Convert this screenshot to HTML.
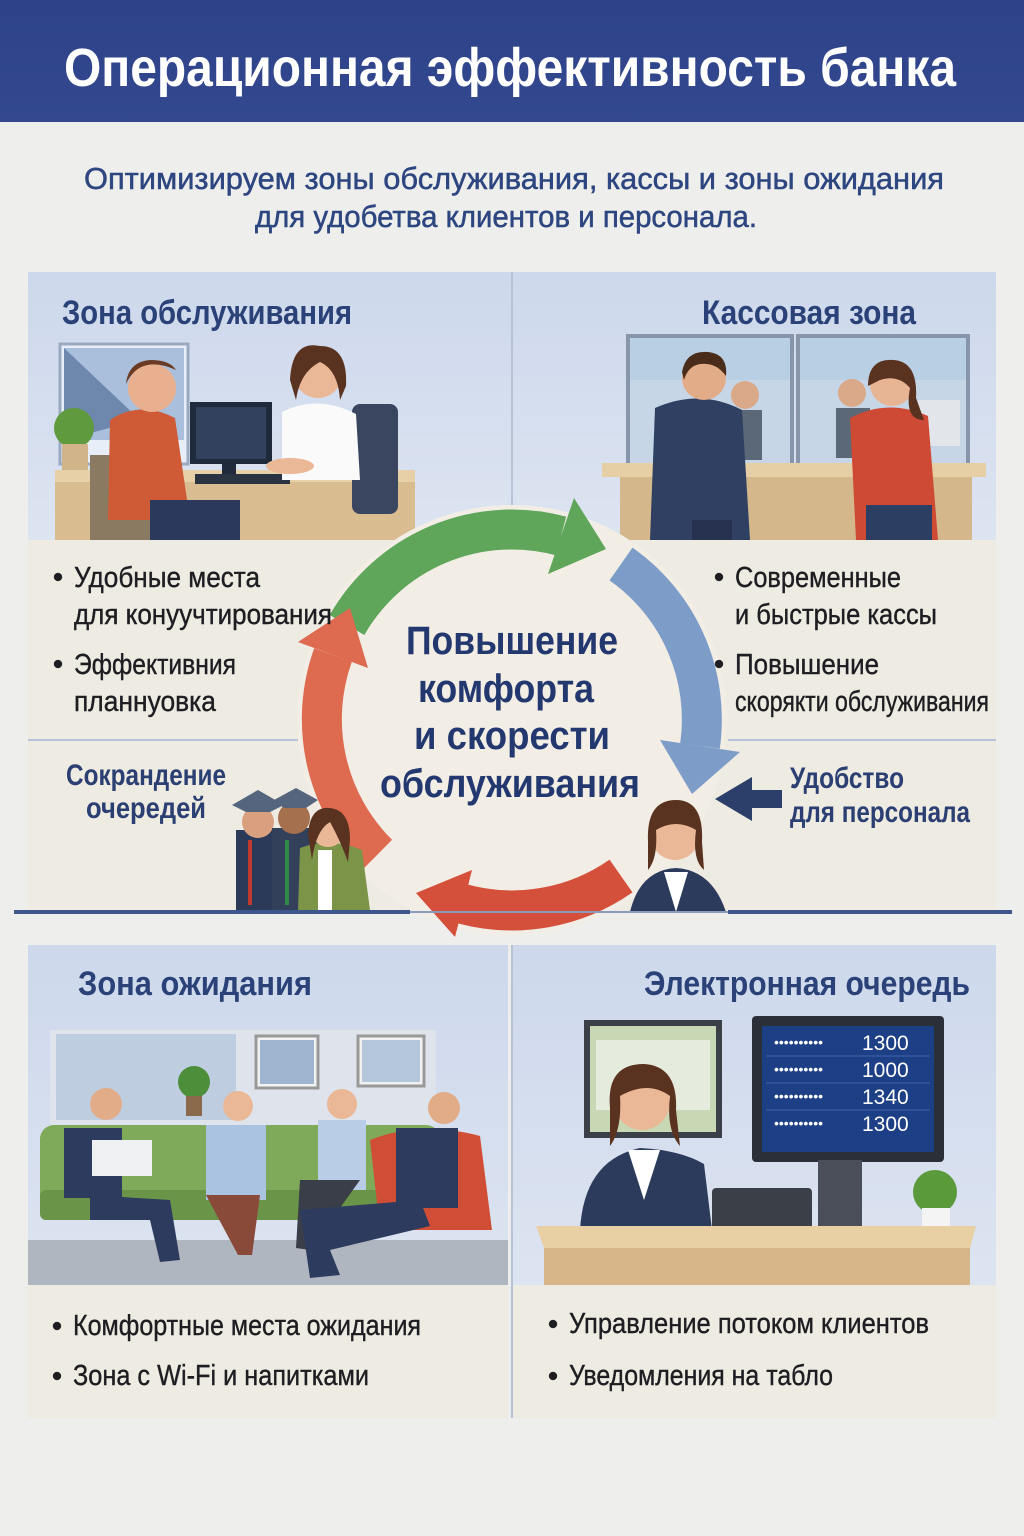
<!DOCTYPE html>
<html><head><meta charset="utf-8"><style>
html,body{margin:0;padding:0;background:#eeeeec}
svg{display:block}
text{font-family:"Liberation Sans Narrow","Liberation Sans","DejaVu Sans Condensed",sans-serif}
</style></head><body>
<svg width="1024" height="1536" viewBox="0 0 1024 1536" xmlns="http://www.w3.org/2000/svg">
<defs>
<linearGradient id="hdr" x1="0" y1="0" x2="0" y2="1"><stop offset="0" stop-color="#2d4289"/><stop offset="1" stop-color="#33488f"/></linearGradient>
<linearGradient id="sky" x1="0" y1="0" x2="0" y2="1"><stop offset="0" stop-color="#cdd8ec"/><stop offset="1" stop-color="#dde4f1"/></linearGradient>
</defs>
<rect width="1024" height="1536" fill="#eeeeec"/>
<rect width="1024" height="122" fill="url(#hdr)"/>
<text x="510" y="86" text-anchor="middle" font-size="54" font-weight="bold" fill="#fff" textLength="892" lengthAdjust="spacingAndGlyphs">Операционная эффективность банка</text>
<text x="514" y="189" text-anchor="middle" font-size="31" fill="#2d4680" stroke="#2d4680" stroke-width="0.5" textLength="860" lengthAdjust="spacingAndGlyphs">Оптимизируем зоны обслуживания, кассы и зоны ожидания</text>
<text x="506" y="227" text-anchor="middle" font-size="31" fill="#2d4680" stroke="#2d4680" stroke-width="0.5" textLength="502" lengthAdjust="spacingAndGlyphs">для удобетва клиентов и персонала.</text>

<!-- top panel -->
<rect x="28" y="272" width="968" height="268" fill="url(#sky)"/>
<rect x="28" y="540" width="968" height="372" fill="#eeebe3"/>
<line x1="512" y1="272" x2="512" y2="540" stroke="#b8c2d6" stroke-width="2"/>
<line x1="28" y1="740" x2="300" y2="740" stroke="#b5c3da" stroke-width="2"/>
<line x1="728" y1="740" x2="996" y2="740" stroke="#b5c3da" stroke-width="2"/>

<text x="62" y="324" font-size="34" font-weight="bold" fill="#2b4278" textLength="290" lengthAdjust="spacingAndGlyphs">Зона обслуживания</text>
<text x="702" y="324" font-size="34" font-weight="bold" fill="#2b4278" textLength="214" lengthAdjust="spacingAndGlyphs">Кассовая зона</text>

<!-- service zone illustration -->
<rect x="60" y="344" width="128" height="120" fill="#e8eef7" stroke="#9aa8c0" stroke-width="3"/>
<polygon points="64,348 184,348 184,440 64,440" fill="#a9bfdc"/>
<polygon points="64,348 140,420 64,440" fill="#6e87ad"/>
<circle cx="74" cy="428" r="20" fill="#5f9a3e"/><rect x="62" y="444" width="26" height="26" fill="#d2b48a"/>
<rect x="55" y="470" width="360" height="70" fill="#d9bd91"/>
<rect x="55" y="470" width="360" height="12" fill="#e7d0a8"/>
<rect x="190" y="402" width="82" height="62" fill="#1f2a3c"/><rect x="196" y="407" width="70" height="52" fill="#32425e"/>
<rect x="222" y="464" width="14" height="14" fill="#1f2a3c"/><rect x="195" y="474" width="95" height="10" fill="#2a3342"/>
<rect x="90" y="455" width="60" height="85" fill="#8a7a62"/>
<path d="M110 420 Q140 400 175 418 L190 520 L108 520 Z" fill="#cf5a36"/>
<circle cx="152" cy="388" r="24" fill="#e8b08e"/>
<path d="M126 384 Q140 354 176 370 Q170 360 150 360 Q128 362 126 384Z" fill="#6a3b22"/>
<rect x="150" y="500" width="90" height="40" fill="#2b3a5c"/>
<rect x="352" y="404" width="46" height="110" rx="8" fill="#3a4660"/>
<path d="M282 412 Q318 394 356 414 L360 480 L282 480 Z" fill="#fafafa"/>
<circle cx="318" cy="374" r="24" fill="#eab896"/><path d="M290 380 Q292 340 320 346 Q348 346 346 386 L340 400 Q338 370 320 362 Q300 372 296 400Z" fill="#5a3320"/>
<ellipse cx="290" cy="466" rx="24" ry="8" fill="#eab896"/>

<!-- cash zone illustration -->
<rect x="628" y="336" width="164" height="128" fill="#b8cfe4" stroke="#8796ab" stroke-width="4"/>
<rect x="798" y="336" width="170" height="128" fill="#b8cfe4" stroke="#8796ab" stroke-width="4"/>
<rect x="630" y="380" width="160" height="84" fill="#c6d6e6"/>
<rect x="800" y="380" width="166" height="84" fill="#c6d6e6"/>
<rect x="918" y="400" width="42" height="46" fill="#e2e6ea"/>
<circle cx="745" cy="395" r="14" fill="#d9a98a"/><rect x="728" y="410" width="34" height="50" fill="#5b6878"/>
<circle cx="852" cy="393" r="14" fill="#d9a98a"/><rect x="836" y="408" width="34" height="50" fill="#5b6878"/>
<rect x="602" y="463" width="384" height="14" fill="#e6cfa5"/>
<rect x="620" y="477" width="352" height="63" fill="#d4b88b"/>
<path d="M655 408 Q700 388 742 410 L750 540 L650 540 Z" fill="#2f4062"/>
<circle cx="704" cy="378" r="22" fill="#e2ac88"/><path d="M682 372 Q686 350 708 352 Q728 354 726 376 Q716 362 700 364 Q688 366 684 380Z" fill="#4a2c1a"/>
<rect x="692" y="520" width="40" height="20" fill="#263250"/>
<path d="M850 418 Q888 398 928 416 L938 540 L856 540 Z" fill="#cf4a34"/>
<circle cx="892" cy="384" r="22" fill="#e8b594"/><path d="M868 386 Q868 358 894 360 Q918 362 916 398 L924 420 Q904 420 910 388 Q898 374 880 380Z" fill="#5a3320"/>
<rect x="866" y="505" width="66" height="35" fill="#2d3e63"/>

<!-- cycle -->
<circle cx="512" cy="720" r="215" fill="#f2eee6"/>
<g fill="none" stroke-width="40">
<path d="M347 625 A190 190 0 0 1 561 536" stroke="#5fa55a"/>
<path d="M621 564 A190 190 0 0 1 700 746" stroke="#7d9dc8"/>
<path d="M621 876 A190 190 0 0 1 463 904" stroke="#d4503b"/>
<path d="M378 854 A190 190 0 0 1 333 655" stroke="#de6a50"/>
</g>
<polygon points="606,549 574,498 548,574" fill="#5fa55a"/>
<polygon points="692,794 740,752 660,740" fill="#7d9dc8"/>
<polygon points="416,893 455,937 472,870" fill="#d4503b"/>
<polygon points="350,608 298,642 368,668" fill="#de6a50"/>

<g font-weight="bold" fill="#23386f" text-anchor="middle" font-size="40">
<text x="512" y="654" textLength="212" lengthAdjust="spacingAndGlyphs">Повышение</text>
<text x="506" y="702" textLength="176" lengthAdjust="spacingAndGlyphs">комфорта</text>
<text x="512" y="749" textLength="196" lengthAdjust="spacingAndGlyphs">и скорести</text>
<text x="510" y="797" textLength="260" lengthAdjust="spacingAndGlyphs">обслуживания</text>
</g>

<g font-size="29" fill="#1e1e22" stroke="#1e1e22" stroke-width="0.4">
<circle cx="58" cy="577" r="4" fill="#1e1e22"/>
<text x="74" y="587" textLength="186" lengthAdjust="spacingAndGlyphs">Удобные места</text>
<text x="74" y="624" textLength="258" lengthAdjust="spacingAndGlyphs">для конуучтирования</text>
<circle cx="58" cy="664" r="4" fill="#1e1e22"/>
<text x="74" y="674" textLength="162" lengthAdjust="spacingAndGlyphs">Эффективния</text>
<text x="74" y="711" textLength="142" lengthAdjust="spacingAndGlyphs">планнуовка</text>
<circle cx="719" cy="577" r="4" fill="#1e1e22"/>
<text x="735" y="587" textLength="166" lengthAdjust="spacingAndGlyphs">Современные</text>
<text x="735" y="624" textLength="202" lengthAdjust="spacingAndGlyphs">и быстрые кассы</text>
<circle cx="719" cy="664" r="4" fill="#1e1e22"/>
<text x="735" y="674" textLength="144" lengthAdjust="spacingAndGlyphs">Повышение</text>
<text x="735" y="711" textLength="254" lengthAdjust="spacingAndGlyphs">скорякти обслуживания</text>
</g>
<g font-size="30" font-weight="bold" fill="#2b3f72">
<text x="146" y="785" text-anchor="middle" textLength="160" lengthAdjust="spacingAndGlyphs">Сокрандение</text>
<text x="146" y="818" text-anchor="middle" textLength="120" lengthAdjust="spacingAndGlyphs">очередей</text>
<text x="790" y="788" textLength="114" lengthAdjust="spacingAndGlyphs">Удобство</text>
<text x="790" y="822" textLength="180" lengthAdjust="spacingAndGlyphs">для персонала</text>
</g>
<polygon points="715,799 752,777 752,790 782,790 782,808 752,808 752,821" fill="#2b3f6a"/>

<!-- queue people -->
<rect x="236" y="830" width="48" height="80" fill="#2b3a58"/><circle cx="258" cy="822" r="16" fill="#d9a080"/>
<path d="M232 805 L258 790 L284 805 L270 812 L246 812Z" fill="#55657e"/>
<rect x="272" y="828" width="46" height="82" fill="#33405a"/><circle cx="294" cy="818" r="16" fill="#a4704e"/>
<path d="M274 800 L296 788 L318 800 L306 808 L284 808Z" fill="#55657e"/>
<line x1="250" y1="840" x2="250" y2="905" stroke="#c0392b" stroke-width="4"/>
<line x1="287" y1="840" x2="287" y2="905" stroke="#2f8a4a" stroke-width="4"/>
<path d="M300 848 Q330 836 362 850 L370 910 L298 910Z" fill="#7c9448"/>
<rect x="318" y="850" width="14" height="60" fill="#fff"/>
<circle cx="328" cy="830" r="17" fill="#eab896"/><path d="M308 834 Q310 806 330 808 Q350 810 350 840 L348 862 Q340 840 330 822 Q316 830 312 860Z" fill="#5a3320"/>

<!-- staff woman -->
<path d="M630 912 Q640 870 676 868 Q712 870 726 912Z" fill="#2c3b5c"/>
<polygon points="664,872 676,912 688,872" fill="#fff"/>
<circle cx="675" cy="836" r="24" fill="#eab896"/>
<path d="M648 842 Q646 800 676 800 Q704 800 702 842 L704 870 Q692 860 696 830 Q676 818 656 830 Q658 858 648 870Z" fill="#5a3320"/>

<rect x="14" y="910" width="396" height="4" fill="#3d568d"/>
<rect x="728" y="910" width="284" height="4" fill="#3d568d"/>
<line x1="410" y1="912" x2="728" y2="912" stroke="#8a9bbd" stroke-width="2"/>

<!-- bottom panels -->
<rect x="28" y="945" width="480" height="340" fill="url(#sky)"/>
<rect x="512" y="945" width="484" height="340" fill="url(#sky)"/>
<rect x="28" y="1285" width="480" height="133" fill="#eeebe3"/>
<rect x="512" y="1285" width="484" height="133" fill="#eeebe3"/>
<text x="78" y="995" font-size="34" font-weight="bold" fill="#2b4278" textLength="234" lengthAdjust="spacingAndGlyphs">Зона ожидания</text>
<text x="644" y="995" font-size="34" font-weight="bold" fill="#2b4278" textLength="326" lengthAdjust="spacingAndGlyphs">Электронная очередь</text>

<!-- waiting illustration -->
<rect x="50" y="1030" width="386" height="95" fill="#dfe4ec"/>
<rect x="56" y="1034" width="180" height="86" fill="#bfcde0"/>
<rect x="256" y="1036" width="62" height="52" fill="#f2f2f2" stroke="#999" stroke-width="3"/>
<rect x="260" y="1040" width="54" height="44" fill="#9fb4cf"/>
<rect x="358" y="1036" width="66" height="50" fill="#f2f2f2" stroke="#999" stroke-width="3"/>
<rect x="362" y="1040" width="58" height="42" fill="#b4c6dc"/>
<circle cx="194" cy="1082" r="16" fill="#4d8e3a"/><rect x="186" y="1096" width="16" height="20" fill="#8a6a4a"/>
<rect x="28" y="1240" width="480" height="45" fill="#b0b6c0"/>
<rect x="40" y="1125" width="400" height="90" rx="14" fill="#7faa5a"/>
<rect x="40" y="1190" width="400" height="30" rx="6" fill="#6a9548"/>
<path d="M370 1140 Q420 1120 480 1136 L492 1230 L380 1230Z" fill="#d14e36"/>
<rect x="64" y="1128" width="58" height="70" fill="#2c3b5e"/><circle cx="106" cy="1104" r="16" fill="#e2ac88"/>
<rect x="92" y="1140" width="60" height="36" fill="#eef0f2"/>
<path d="M90 1195 L170 1200 L180 1260 L160 1262 L150 1220 L90 1220Z" fill="#2c3b5e"/>
<rect x="206" y="1125" width="60" height="75" fill="#a9c3e0"/><circle cx="238" cy="1106" r="15" fill="#eab896"/>
<path d="M206 1195 L260 1195 L252 1255 L238 1255Z" fill="#8a4a3a"/>
<rect x="318" y="1120" width="48" height="70" fill="#b9cde6"/><circle cx="342" cy="1104" r="15" fill="#eab896"/>
<path d="M300 1180 L360 1180 L310 1250 L296 1248Z" fill="#3a3e48"/>
<rect x="396" y="1128" width="62" height="80" fill="#2c3b5e"/><circle cx="444" cy="1108" r="16" fill="#e2ac88"/>
<path d="M300 1210 L420 1200 L430 1226 L330 1250 L340 1275 L310 1278Z" fill="#2c3b5e"/>

<!-- e-queue illustration -->
<rect x="584" y="1020" width="138" height="118" fill="#3a3f48"/><rect x="590" y="1026" width="126" height="106" fill="#c8d8b4"/>
<rect x="596" y="1040" width="114" height="70" fill="#e6ecdd"/>
<rect x="752" y="1016" width="192" height="146" rx="4" fill="#2b2f38"/>
<rect x="762" y="1026" width="172" height="126" fill="#1d3f85"/>
<rect x="818" y="1160" width="44" height="70" fill="#4a4e58"/>
<g font-size="21" fill="#fff" font-family="Liberation Sans,sans-serif">
<text x="862" y="1050">1300</text><text x="862" y="1077">1000</text><text x="862" y="1104">1340</text><text x="862" y="1131">1300</text>
<text x="774" y="1047" font-size="14">••••••••••</text><text x="774" y="1074" font-size="14">••••••••••</text><text x="774" y="1101" font-size="14">••••••••••</text><text x="774" y="1128" font-size="14">••••••••••</text>
</g>
<line x1="766" y1="1056" x2="930" y2="1056" stroke="#3f63ab"/><line x1="766" y1="1083" x2="930" y2="1083" stroke="#3f63ab"/><line x1="766" y1="1110" x2="930" y2="1110" stroke="#3f63ab"/>
<path d="M580 1230 Q584 1160 640 1148 Q680 1150 704 1164 L712 1230Z" fill="#2c3b5c"/>
<polygon points="628,1150 644,1200 660,1150" fill="#fff"/>
<circle cx="642" cy="1102" r="28" fill="#eab896"/>
<path d="M610 1108 Q606 1064 644 1064 Q678 1066 676 1110 L680 1146 Q666 1130 670 1096 Q648 1080 620 1096 Q622 1130 610 1146Z" fill="#5a3320"/>
<rect x="712" y="1188" width="100" height="56" rx="4" fill="#3a3f48"/>
<circle cx="935" cy="1192" r="22" fill="#5a9a3a"/><rect x="922" y="1208" width="28" height="24" fill="#f4f4f4"/>
<path d="M536 1226 L976 1226 L970 1248 L544 1248Z" fill="#e8cfa4"/>
<rect x="544" y="1248" width="426" height="37" fill="#d6b688"/>
<line x1="512" y1="945" x2="512" y2="1418" stroke="#b8c2d6" stroke-width="2"/>

<g font-size="29" fill="#1e1e22" stroke="#1e1e22" stroke-width="0.4">
<circle cx="57" cy="1326" r="4" fill="#1e1e22"/>
<text x="73" y="1335" textLength="348" lengthAdjust="spacingAndGlyphs">Комфортные места ожидания</text>
<circle cx="57" cy="1376" r="4" fill="#1e1e22"/>
<text x="73" y="1385" textLength="296" lengthAdjust="spacingAndGlyphs">Зона с Wi-Fi и напитками</text>
<circle cx="553" cy="1324" r="4" fill="#1e1e22"/>
<text x="569" y="1333" textLength="360" lengthAdjust="spacingAndGlyphs">Управление потоком клиентов</text>
<circle cx="553" cy="1376" r="4" fill="#1e1e22"/>
<text x="569" y="1385" textLength="264" lengthAdjust="spacingAndGlyphs">Уведомления на табло</text>
</g>
</svg>
</body></html>
